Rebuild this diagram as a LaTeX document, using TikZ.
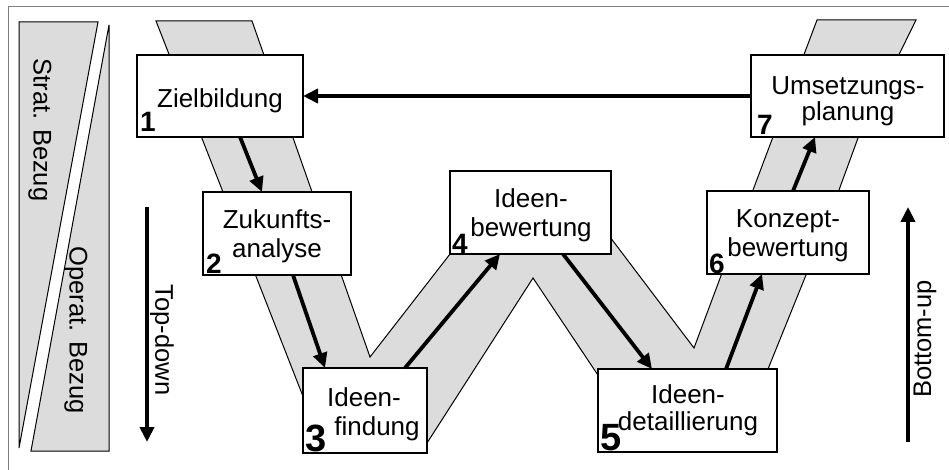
\documentclass[tikz,border=0pt]{standalone}
\usepackage{fontspec}
\setmainfont{Liberation Sans}
\usetikzlibrary{arrows.meta}
\definecolor{bandgray}{HTML}{DCDCDC}
\definecolor{framegray}{HTML}{808080}
\begin{document}
\begin{tikzpicture}[x=1pt,y=-1pt,
  edge/.style={draw=black,line width=1pt,line join=miter},
  box/.style={draw=black,fill=white,line width=1.5pt,rectangle,inner sep=0pt,outer sep=0pt},
  lbl/.style={align=center,inner sep=0pt,font=\fontsize{26}{29}\selectfont},
  side/.style={inner sep=0pt,font=\fontsize{25.5}{29}\selectfont},
  num/.style={anchor=base west,inner sep=0pt,font=\fontsize{28}{28}\selectfont\bfseries},
  bignum/.style={num,font=\fontsize{38}{38}\selectfont\bfseries},
  arr/.style={line width=3.8pt,-{Triangle[length=15pt,width=14pt]}}]
\useasboundingbox (0,0) rectangle (949,470);

% outer frame (top and left edge)
\draw[framegray,line width=1.5pt] (8.5,470) -- (8.5,6.5) -- (949,6.5);

% strategic / operative wedges
\draw[edge,fill=bandgray] (19,22) -- (98,22) -- (19,448) -- cycle;
\draw[edge,fill=bandgray] (109,25) -- (109,451) -- (31,451) -- cycle;
\node[side,rotate=-90] (strat) at (40,130) {Strat. Bezug};
\node[side,rotate=-90] (operat) at (76,330) {Operat. Bezug};

% top-down / bottom-up arrows
\coordinate (tdA) at (147,207);
\coordinate (tdB) at (147,442);
\draw[arr] (tdA) -- (tdB);
\node[side,rotate=-90] (td) at (162,340) {Top-down};
\coordinate (buA) at (908,442);
\coordinate (buB) at (908,207);
\draw[arr] (buA) -- (buB);
\node[side,rotate=90] (bu) at (925,339) {Bottom-up};

% W-shaped band behind the process steps
\draw[edge,fill=bandgray]
  (156,21) -- (252,21) -- (370,357) -- (492,200) -- (582,200) -- (694,348)
  -- (753,190) -- (817,20) -- (916,20) -- (858,138) -- (839,190) -- (806,275)
  -- (768,369) -- (748,420) -- (628,420) -- (533,278) -- (427,443)
  -- (422,450) -- (324,450) -- cycle;

% process steps
\node[box,minimum width=166pt,minimum height=82pt] (b1) at (220,96) {};
\node[box,minimum width=148pt,minimum height=83pt] (b2) at (277,233.5) {};
\node[box,minimum width=124pt,minimum height=85pt] (b3) at (365,410.5) {};
\node[box,minimum width=161pt,minimum height=83pt] (b4) at (530.5,212.5) {};
\node[box,minimum width=179pt,minimum height=83pt] (b5) at (687.5,410.5) {};
\node[box,minimum width=162pt,minimum height=83pt] (b6) at (788,232.5) {};
\node[box,minimum width=193pt,minimum height=82pt] (b7) at (847.5,96) {};

\node[lbl] (t1) at (220,100.5) {Zielbildung};
\node[lbl] (t2) at (277,236.5) {Zukunfts-\\analyse};
\node[lbl] (t3) at (364,414) {Ideen-\\\hspace*{26pt}findung};
\node[lbl,font=\fontsize{26}{27}\selectfont] (t5) at (688,410) {Ideen-\\detaillierung};
\node[lbl] (t4) at (531,215.5) {Ideen-\\bewertung};
\node[lbl] (t6) at (788,236) {Konzept-\\bewertung};
\node[lbl,font=\fontsize{26}{26}\selectfont] (t7) at (848,101) {Umsetzungs-\\planung};

\node[num] (n1) at ([xshift=3pt,yshift=5pt]b1.south west) {1};
\node[num] (n2) at ([xshift=3pt,yshift=2pt]b2.south west) {2};
\node[bignum] (n3) at ([xshift=2pt,yshift=2pt]b3.south west) {3};
\node[num] (n4) at ([xshift=2pt,yshift=1pt]b4.south west) {4};
\node[bignum] (n5) at ([xshift=2pt,yshift=2pt]b5.south west) {5};
\node[num] (n6) at ([xshift=2pt,yshift=1pt]b6.south west) {6};
\node[num] (n7) at ([xshift=6pt,yshift=2pt]b7.south west) {7};

% flow between the steps
\draw[arr] ([xshift=20pt]b1.south) -- ([xshift=-15pt]b2.north);
\draw[arr] ([xshift=16pt]b2.south) -- ([xshift=-40pt]b3.north);
\draw[arr] ([xshift=40pt]b3.north) -- ([xshift=-30.5pt]b4.south);
\draw[arr] ([xshift=32.5pt]b4.south) -- ([xshift=-35.5pt]b5.north);
\draw[arr] ([xshift=38.5pt]b5.north) -- ([xshift=-26pt]b6.south);
\draw[arr] ([xshift=5pt]b6.north) -- ([xshift=-32.5pt]b7.south);
\draw[arr] (b7.west) -- (b1.east);
\end{tikzpicture}
\end{document}
